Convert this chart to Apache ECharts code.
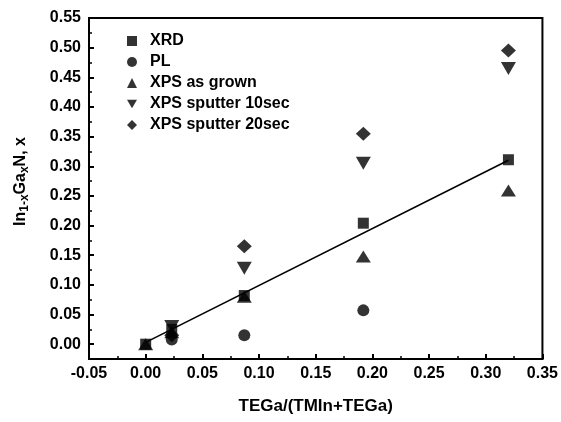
<!DOCTYPE html>
<html>
<head>
<meta charset="utf-8">
<script src="https://cdn.jsdelivr.net/npm/echarts@6/dist/echarts.min.js"></script>
<style>html,body{margin:0;padding:0;background:#fff}#c{width:561px;height:422px}</style>
</head>
<body>
<div id="c"></div>
<script>
// ---- data ----
var xVals = [0, 0.023, 0.087, 0.192, 0.32];
var xrd = [0, 0.025, 0.082, 0.204, 0.311];
var pl = [null, 0.008, 0.015, 0.057, null];
var xpsGrown = [0, 0.02, 0.08, 0.148, 0.259];
var xpsSput10 = [null, 0.03, 0.128, 0.305, 0.465];
var xpsSput20 = [null, 0.015, 0.165, 0.355, 0.495];
var fitX = [0, 0.32];
var fitY = [0.003, 0.31];
var yTicks = [0, 0.05, 0.10, 0.15, 0.20, 0.25, 0.30, 0.35, 0.40, 0.45, 0.50, 0.55];
var yMinorTicks = [-0.025, 0.025, 0.075, 0.125, 0.175, 0.225, 0.275, 0.325, 0.375, 0.425, 0.475, 0.525];
var seriesNames = ['XRD', 'PL', 'XPS as grown', 'XPS sputter 10sec', 'XPS sputter 20sec'];

function pairs(xs, ys) {
  var out = [];
  for (var i = 0; i < xs.length; i++) if (ys[i] !== null) out.push([xs[i], ys[i]]);
  return out;
}

var FONT = '"Liberation Sans", Arial, sans-serif';
var DOWN = 'path://M0,0L10,0L5,8.5Z';
var chart = echarts.init(document.getElementById('c'), null, {renderer: 'canvas'});
var sym = [
  {symbol: 'rect', size: 11, icon: 'rect'},
  {symbol: 'circle', size: 12, icon: 'circle'},
  {symbol: 'triangle', size: [15, 12], icon: 'triangle'},
  {symbol: DOWN, size: [15, 13], icon: DOWN},
  {symbol: 'diamond', size: [15, 14], icon: 'diamond'}
];
var datasets = [xrd, pl, xpsGrown, xpsSput10, xpsSput20];
var series = datasets.map(function (d, i) {
  return {
    name: seriesNames[i], type: 'scatter', xAxisIndex: 0, yAxisIndex: 0,
    symbol: sym[i].symbol, symbolSize: sym[i].size,
    itemStyle: {color: '#000'}, data: pairs(xVals, d), z: 3
  };
});
series.push({
  name: 'fit', type: 'line', xAxisIndex: 0, yAxisIndex: 0, symbol: 'none',
  lineStyle: {color: '#000', width: 1.6}, data: pairs(fitX, fitY), z: 2
});

chart.setOption({
  animation: false,
  backgroundColor: '#fff',
  grid: {left: 89, right: 18, top: 18, bottom: 63, show: true, borderColor: '#000', borderWidth: 2},
  legend: {
    data: seriesNames.map(function (n, i) { return {name: n, icon: sym[i].icon}; }),
    orient: 'vertical', left: 122, top: 28,
    itemWidth: 10, itemHeight: 10, itemGap: 5,
    textStyle: {fontFamily: FONT, fontWeight: 'bold', fontSize: 16, color: '#000', padding: [0, 0, 0, 8]},
    inactiveColor: '#000'
  },
  xAxis: {
    type: 'value', min: -0.05, max: 0.35, interval: 0.05,
    name: 'TEGa/(TMIn+TEGa)', nameLocation: 'middle', nameGap: 39,
    nameTextStyle: {fontFamily: FONT, fontWeight: 'bold', fontSize: 17, color: '#000'},
    axisLine: {onZero: false, lineStyle: {color: '#000', width: 2}},
    axisTick: {inside: true, length: 5, lineStyle: {color: '#000', width: 2}},
    minorTick: {show: true, splitNumber: 2, length: 3, lineStyle: {color: '#000', width: 1.5}},
    splitLine: {show: false},
    axisLabel: {fontFamily: FONT, fontWeight: 'bold', fontSize: 16, color: '#000', margin: 7,
      formatter: function (v) { return v.toFixed(2); }}
  },
  yAxis: [{
    type: 'value', min: -0.025, max: 0.55,
    name: '{n|In}{s|1-x}{n|Ga}{s|x}{n|N, x}', nameLocation: 'middle', nameGap: 58,
    nameTextStyle: {fontFamily: FONT, fontWeight: 'bold', fontSize: 16, color: '#000', padding: [0, 0, 0, 14],
      rich: {
        n: {fontFamily: FONT, fontWeight: 'bold', fontSize: 16, color: '#000', lineHeight: 20},
        s: {fontFamily: FONT, fontWeight: 'bold', fontSize: 12, color: '#000', lineHeight: 20, padding: [8, 0, 0, 0]}
      }},
    axisLine: {onZero: false, lineStyle: {color: '#000', width: 2}},
    axisTick: {inside: true, length: 5, customValues: yTicks, lineStyle: {color: '#000', width: 2}},
    splitLine: {show: false},
    axisLabel: {customValues: yTicks, fontFamily: FONT, fontWeight: 'bold', fontSize: 16, color: '#000', margin: 8,
      formatter: function (v) { return (+v).toFixed(2); }}
  }, {
    type: 'value', min: -0.025, max: 0.55, position: 'left', offset: 0,
    axisLine: {show: false, onZero: false},
    axisTick: {inside: true, length: 3, customValues: yMinorTicks, lineStyle: {color: '#000', width: 1.5}},
    axisLabel: {show: false}, splitLine: {show: false}
  }],
  series: series
});
</script>
</body>
</html>
